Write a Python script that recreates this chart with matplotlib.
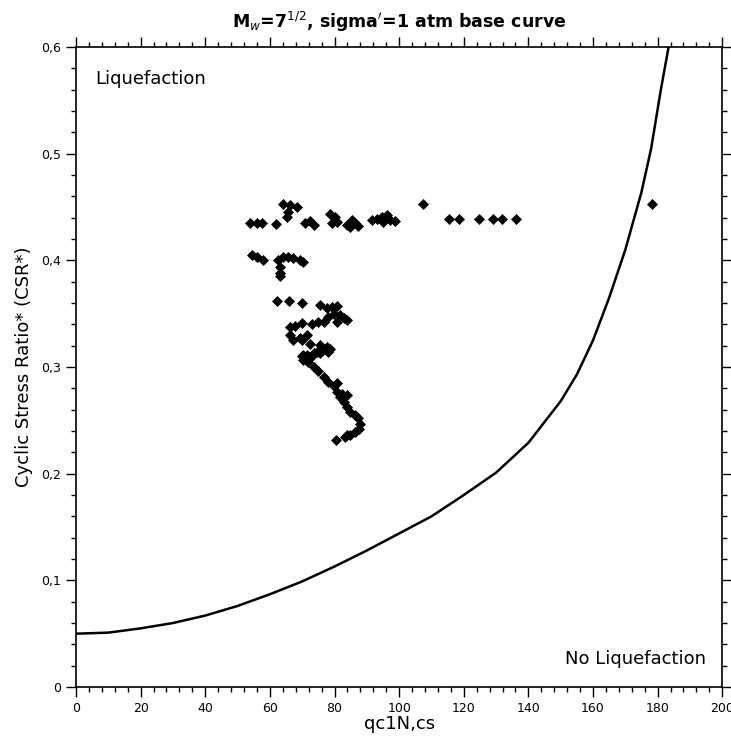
import matplotlib
matplotlib.use("Agg")
import matplotlib.pyplot as plt
from matplotlib.ticker import MultipleLocator, FuncFormatter

# base curve
curve_q = [0, 10, 20, 30, 40, 50, 60, 70, 80, 90, 100, 110, 120, 130, 140,
           150, 155, 160, 165, 170, 175, 178, 181, 183.4]
curve_csr = [0.050, 0.051, 0.055, 0.060, 0.067, 0.076, 0.087, 0.099, 0.113,
             0.128, 0.144, 0.160, 0.180, 0.201, 0.229, 0.268, 0.293, 0.325,
             0.365, 0.410, 0.464, 0.505, 0.560, 0.600]

# CPT data points
pts_q = [
    # upper row
    53.9, 55.9, 57.5, 61.9, 64.2, 66.3, 68.3, 65.7, 65.2, 70.9, 72.4, 73.5,
    78.6, 80.2, 79.2, 80.7, 83.8, 85.3, 86.4, 87.4, 84.8,
    91.5, 93.1, 94.6, 96.2, 97.2, 98.8, 95.1,
    107.3, 115.3, 118.4, 124.6, 129.2, 131.8, 136.2, 178.2,
    # second row
    54.4, 55.9, 58.0, 62.6, 64.2, 65.7, 67.3, 69.3, 70.4, 63.2, 63.2, 63.2,
    # third group
    62.1, 66.0, 69.9,
    75.5, 77.6, 79.2, 80.7, 79.7, 81.7, 78.1, 76.6, 82.8, 83.8, 80.7,
    66.3, 67.8, 69.9, 73.0, 75.0, 66.3, 67.3, 69.3, 71.4,
    69.9, 72.4, 75.5, 77.6, 78.6,
    70.4, 71.4, 73.0, 74.5, 76.1,
    # descending chain
    69.9, 71.4, 73.5, 75.5, 78.1, 70.4, 71.9,
    73.5, 75.0, 76.6, 78.1, 79.7, 80.7, 81.7, 82.8, 83.8, 84.8, 86.4, 87.4,
    87.9, 87.7, 86.4, 84.8, 83.3,
    82.3, 83.8, 80.7, 80.5, 84.0,
]
pts_csr = [
    0.435, 0.435, 0.435, 0.434, 0.453, 0.452, 0.450, 0.445, 0.441, 0.435, 0.437, 0.433,
    0.444, 0.441, 0.435, 0.436, 0.433, 0.438, 0.435, 0.432, 0.431,
    0.438, 0.439, 0.441, 0.443, 0.438, 0.437, 0.436,
    0.453, 0.439, 0.439, 0.439, 0.439, 0.439, 0.439, 0.453,
    0.405, 0.403, 0.400, 0.400, 0.403, 0.403, 0.402, 0.400, 0.399, 0.394, 0.388, 0.385,
    0.362, 0.362, 0.360,
    0.358, 0.355, 0.356, 0.357, 0.350, 0.349, 0.347, 0.342, 0.346, 0.344, 0.342,
    0.338, 0.339, 0.341, 0.340, 0.342, 0.330, 0.325, 0.327, 0.330,
    0.325, 0.322, 0.321, 0.319, 0.317,
    0.311, 0.307, 0.310, 0.314, 0.316,
    0.310, 0.311, 0.313, 0.313, 0.314, 0.307, 0.305,
    0.300, 0.296, 0.291, 0.286, 0.282, 0.277, 0.272, 0.267, 0.263, 0.258, 0.255, 0.252,
    0.247, 0.242, 0.239, 0.236, 0.234,
    0.275, 0.274, 0.285, 0.232, 0.236,
]

fig = plt.figure(figsize=(7.31, 7.44), dpi=100)
ax = fig.add_axes([0.104, 0.0766, 0.884, 0.860])

ax.plot(curve_q, curve_csr, color="black", lw=1.8)
ax.plot(pts_q, pts_csr, linestyle="none", marker="D", color="black",
        markersize=5, markeredgewidth=0.5)

ax.set_xlim(0, 200)
ax.set_ylim(0, 0.6)
ax.xaxis.set_major_locator(MultipleLocator(20))
ax.xaxis.set_minor_locator(MultipleLocator(4))
ax.yaxis.set_major_locator(MultipleLocator(0.1))
ax.yaxis.set_minor_locator(MultipleLocator(0.02))
ax.yaxis.set_major_formatter(FuncFormatter(
    lambda v, p: "0" if abs(v) < 1e-9 else f"{v:.1f}".replace(".", ",")))

ax.tick_params(which="both", direction="out", top=True, right=True,
               labelsize=9, color="black")
ax.tick_params(which="major", length=7, width=1)
ax.tick_params(which="minor", length=3.5, width=1)
for s in ax.spines.values():
    s.set_linewidth(1.2)

ax.set_xlabel("qc1N,cs", fontsize=13, labelpad=0)
ax.set_ylabel("Cyclic Stress Ratio* (CSR*)", fontsize=13, labelpad=6)
ax.set_title("M$_w$=7$^{1/2}$, sigma$'$=1 atm base curve",
             fontsize=12.5, fontweight="bold", pad=14)

ax.text(0.03, 0.965, "Liquefaction", transform=ax.transAxes,
        fontsize=13, va="top", ha="left")
ax.text(0.975, 0.03, "No Liquefaction", transform=ax.transAxes,
        fontsize=13, va="bottom", ha="right")

fig.savefig("out.png", dpi=100)
